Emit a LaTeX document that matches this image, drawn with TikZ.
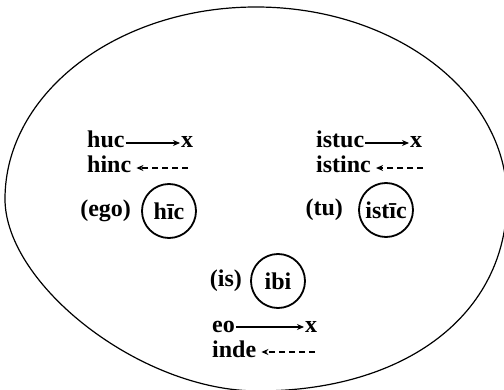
\documentclass[tikz,border=0pt]{standalone}
\usepackage{fontspec}
\setmainfont{Liberation Serif}
\usetikzlibrary{arrows.meta,positioning}

\begin{document}
\begin{tikzpicture}[x=1pt,y=1pt,
  t/.style={font=\fontsize{24}{26}\selectfont\bfseries,inner sep=1pt},
  c/.style={t,draw,circle,line width=1.8pt,minimum size=54pt,inner sep=0pt},
  go/.style={->,line width=1.6pt},
  back/.style={->,line width=1.3pt,dash pattern=on 6pt off 4pt,shorten >=4pt},
  >={Stealth[length=7pt,width=6pt]},node distance=8pt]
\useasboundingbox (0,0) rectangle (504,389);
\clip (0,0) rectangle (504,389);
% outline
\draw[line width=1.2pt] (507,190) arc[start angle=0,end angle=180,x radius=251,y radius=192]
  .. controls (5,105) and (140,-2) .. (258,-2) .. controls (405,-2) and (507,74) .. cycle;
% ego
\node[c] (hic) at (169,178) {hīc};
\node[t,left=9pt of hic] (ego) {(ego)};
\node[t,anchor=base west] (huc) at (86,241) {huc};
\node[t,anchor=base west] (x1) at (180,241) {x};
\node[t,anchor=base west] (hinc) at (86,216) {hinc};
\coordinate (hincend) at (188,221);
\draw[go] ([yshift=5pt]huc.base east) -- ([yshift=5pt]x1.base west);
\draw[back] (hincend) -- ([yshift=5pt]hinc.base east);
% tu
\node[c] (istic) at (386,179) {istīc};
\node[t,left=14pt of istic] (tu) {(tu)};
\node[t,anchor=base west] (istuc) at (315,241) {istuc};
\node[t,anchor=base west] (x2) at (409,241) {x};
\node[t,anchor=base west] (istinc) at (315,216) {istinc};
\coordinate (istincend) at (423,221);
\draw[go] ([yshift=5pt]istuc.base east) -- ([yshift=5pt]x2.base west);
\draw[back] (istincend) -- ([yshift=5pt]istinc.base east);
% is
\node[c] (ibi) at (278,108) {ibi};
\node[t,left=7pt of ibi] (is) {(is)};
\node[t,anchor=base west] (eo) at (211,57) {eo};
\node[t,anchor=base west] (x3) at (304,57) {x};
\node[t,anchor=base west] (inde) at (211,32) {inde};
\coordinate (indeend) at (315,37);
\draw[go] ([yshift=5pt]eo.base east) -- ([yshift=5pt]x3.base west);
\draw[back] (indeend) -- ([yshift=5pt]inde.base east);
\end{tikzpicture}
\end{document}
